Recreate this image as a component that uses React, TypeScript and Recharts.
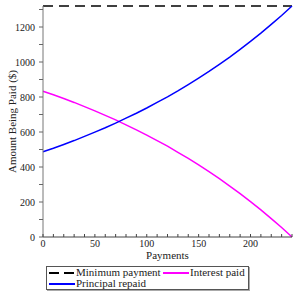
import { LineChart, Line, XAxis, YAxis, Legend } from 'recharts';

const payments = [0, 10, 20, 30, 40, 50, 60, 70, 80, 90, 100, 110, 120, 130, 140, 150, 160, 170, 180, 190, 200, 210, 220, 230, 240];
const minimumPayment = [1320, 1320, 1320, 1320, 1320, 1320, 1320, 1320, 1320, 1320, 1320, 1320, 1320, 1320, 1320, 1320, 1320, 1320, 1320, 1320, 1320, 1320, 1320, 1320, 1320];
const interestPaid = [833, 813, 791, 769, 745, 721, 695, 669, 641, 612, 582, 551, 519, 484, 449, 412, 373, 333, 291, 248, 202, 155, 105, 54, 0];
const principalRepaid = [487, 507, 529, 551, 575, 599, 624, 651, 679, 707, 737, 769, 801, 835, 871, 908, 946, 987, 1028, 1072, 1118, 1165, 1215, 1266, 1320];

const xTicks = [0, 10, 20, 30, 40, 50, 60, 70, 80, 90, 100, 110, 120, 130, 140, 150, 160, 170, 180, 190, 200, 210, 220, 230, 240];
const xLabels = [0, 50, 100, 150, 200];
const yTicks = [0, 100, 200, 300, 400, 500, 600, 700, 800, 900, 1000, 1100, 1200, 1300];
const yLabels = [0, 200, 400, 600, 800, 1000, 1200];

const FONT = '"Liberation Serif", "DejaVu Serif", serif';

const data = payments.map((p, i) => ({
  payment: p,
  minimum: minimumPayment[i],
  interest: interestPaid[i],
  principal: principalRepaid[i],
}));

const XTick = ({ x, y, payload }: any) => (
  <g>
    <line x1={x} x2={x} y1={y - 3} y2={y - 6} stroke="#444" />
    {xLabels.includes(payload.value) && (
      <text x={x} y={y} dy="0.71em" textAnchor="middle" fontSize={10} fill="#222" fontFamily={FONT}>
        {payload.value}
      </text>
    )}
  </g>
);

const YTick = ({ x, y, payload }: any) =>
  yLabels.includes(payload.value) ? (
    <text x={x} y={y} dy="0.355em" textAnchor="end" fontSize={10} fill="#222" fontFamily={FONT}>
      {payload.value}
    </text>
  ) : (
    <g />
  );

const YLabel = ({ viewBox }: any) => {
  const { x, y, height } = viewBox;
  return (
    <text
      transform={`translate(${x + 12},${y + height / 2}) rotate(-90)`}
      textAnchor="middle"
      dominantBaseline="central"
      fontSize={11}
      fill="#222"
      fontFamily={FONT}
    >
      Amount Being Paid ($)
    </text>
  );
};

const Sample = ({ color, dash }: { color: string; dash?: string }) => (
  <svg width={26} height={4} style={{ display: 'block' }}>
    <line x1={0} x2={26} y1={2} y2={2} stroke={color} strokeWidth={2} strokeDasharray={dash} />
  </svg>
);

const LegendBox = () => (
  <div
    style={{
      width: 201,
      height: 22,
      border: '1px solid #555',
      fontFamily: FONT,
      fontSize: 11,
      color: '#222',
      position: 'relative',
      lineHeight: '11px',
      boxShadow: '1px 1px 0 #aaa',
    }}
  >
    <div style={{ position: 'absolute', left: 2, top: 0, display: 'flex', alignItems: 'center', gap: 1 }}>
      <Sample color="#000" dash="10 5" />
      <span>Minimum payment</span>
    </div>
    <div style={{ position: 'absolute', left: 116, top: 0, display: 'flex', alignItems: 'center', gap: 1 }}>
      <Sample color="#ff00ff" />
      <span>Interest paid</span>
    </div>
    <div style={{ position: 'absolute', left: 2, top: 11, display: 'flex', alignItems: 'center', gap: 1 }}>
      <Sample color="#0000ff" />
      <span>Principal repaid</span>
    </div>
  </div>
);

export default function App() {
  return (
    <div style={{ position: 'absolute', left: 0, top: 0, width: 297, height: 297, background: '#fff' }}>
      <LineChart width={297} height={297} data={data} margin={{ top: 6, right: 5, left: 0, bottom: 0 }}>
        <XAxis
          dataKey="payment"
          type="number"
          domain={[0, 240]}
          ticks={xTicks}
          interval={0}
          tick={<XTick />}
          tickLine={false}
          tickSize={0}
          tickMargin={3}
          height={60}
          axisLine={{ stroke: '#444' }}
          label={{ value: 'Payments', position: 'insideTop', offset: 14, fontSize: 11, fill: '#222', fontFamily: FONT }}
        />
        <YAxis
          type="number"
          domain={[0, 1320]}
          ticks={yTicks}
          interval={0}
          width={43}
          tick={<YTick />}
          tickLine={{ stroke: '#666' }}
          tickSize={4}
          tickMargin={4}
          axisLine={{ stroke: '#777' }}
          label={<YLabel />}
        />
        <Line dataKey="minimum" stroke="#000" strokeWidth={1.5} strokeDasharray="10 6" dot={false} isAnimationActive={false} />
        <Line dataKey="interest" stroke="#ff00ff" strokeWidth={1.5} dot={false} isAnimationActive={false} />
        <Line dataKey="principal" stroke="#0000ff" strokeWidth={1.5} dot={false} isAnimationActive={false} />
        <Legend
          verticalAlign="middle"
          layout="horizontal"
          wrapperStyle={{ left: 46, top: 266, width: 204 }}
          content={() => <LegendBox />}
        />
      </LineChart>
    </div>
  );
}
